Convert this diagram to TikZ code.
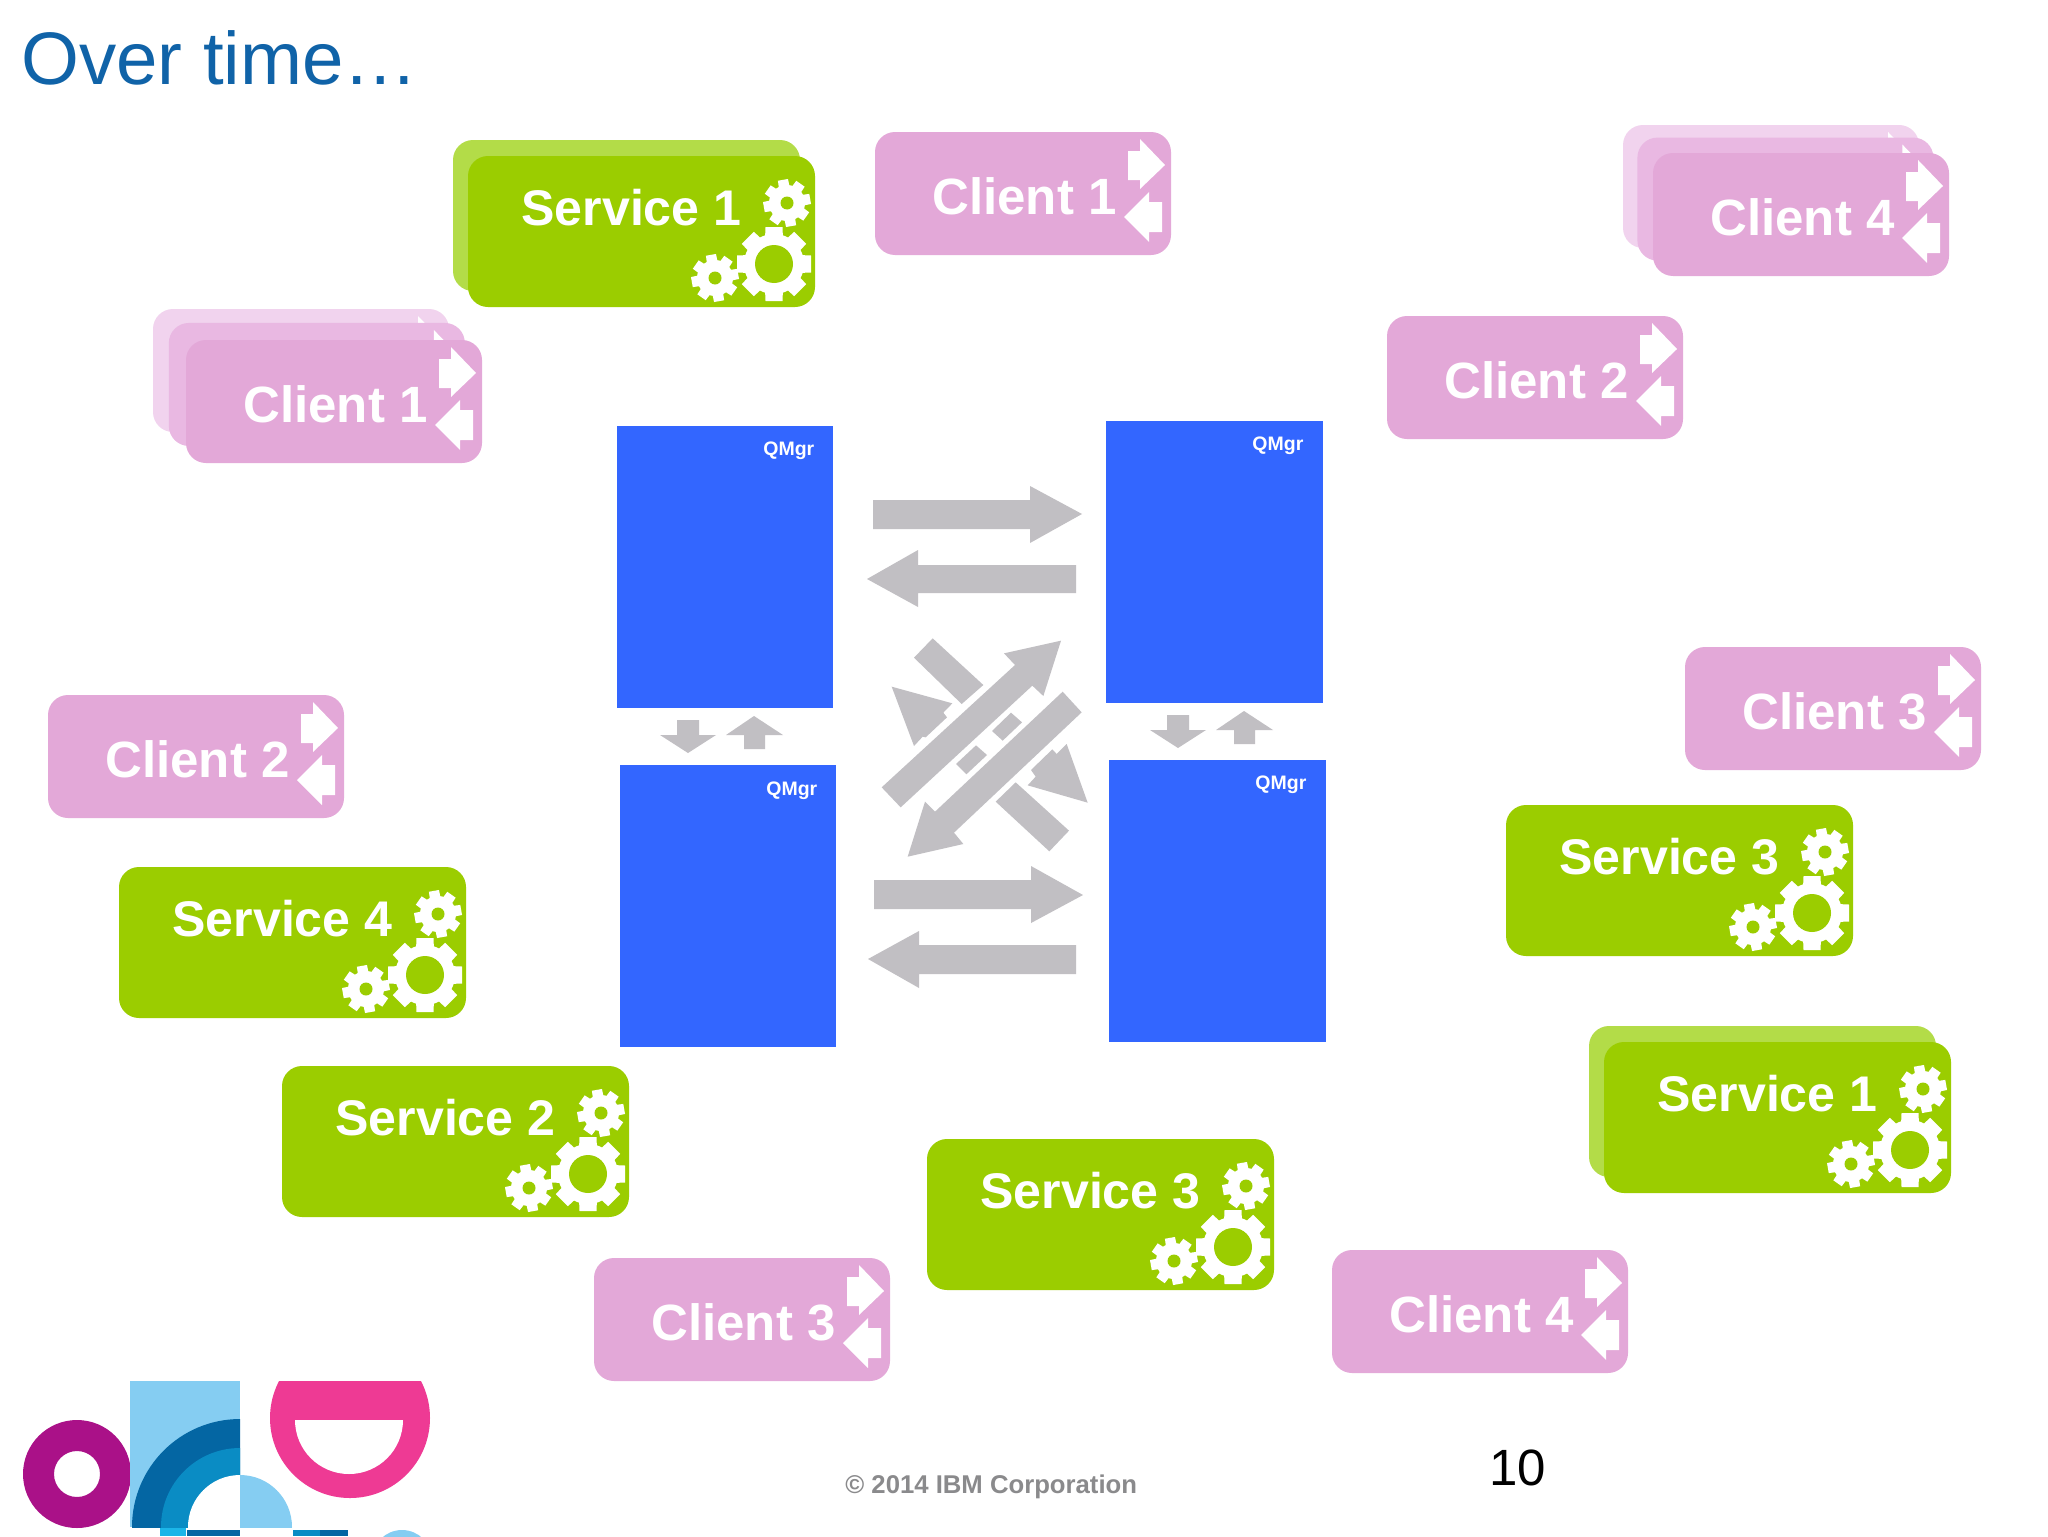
\documentclass[tikz,border=0pt]{standalone}
\usepackage{fontspec}
\setmainfont{Liberation Sans}
\definecolor{svcfront}{HTML}{9BCD00}
\definecolor{svcback}{HTML}{B3DC48}
\definecolor{clifront}{HTML}{E3A8D8}
\definecolor{climid}{HTML}{E9B8E2}
\definecolor{cliback}{HTML}{F1D3EE}
\definecolor{qblue}{HTML}{3366FF}
\definecolor{arrowgrey}{HTML}{C1BFC3}
\definecolor{titleblue}{HTML}{1063A8}
\definecolor{footgrey}{HTML}{8A8A8C}
\definecolor{logopurple}{HTML}{AA1188}
\definecolor{logopink}{HTML}{EE3A94}
\definecolor{logolight}{HTML}{85CDF2}
\definecolor{logodark}{HTML}{0466A3}
\definecolor{logomid}{HTML}{0A8CC4}
\definecolor{logocyan}{HTML}{1CB5E8}
\tikzset{
  cardbox/.style={anchor=north west,inner sep=0pt,outer sep=0pt,rounded corners=10pt},
  servicebox/.style={cardbox,minimum width=173.5pt,minimum height=75.5pt},
  clientbox/.style={cardbox,minimum width=148pt,minimum height=61.5pt},
  svclabel/.style={anchor=base west,inner sep=0pt,text=white,font=\fontsize{25.05pt}{28pt}\selectfont\bfseries},
  clilabel/.style={anchor=base west,inner sep=0pt,text=white,font=\fontsize{25.5pt}{28pt}\selectfont\bfseries},
  qmgrbox/.style={anchor=north west,inner sep=0pt,outer sep=0pt,fill=qblue,minimum height=141pt},
  qmgrlabel/.style={anchor=base west,inner sep=0pt,text=white,font=\fontsize{9.75pt}{11pt}\selectfont\bfseries},
  grey/.style={fill=arrowgrey}
}
% centre x, centre y, outer radius, body radius, tooth half-width, hole radius, turn, hole colour
\newcommand{\gearat}[8]{%
  \foreach \a in {0,45,...,315}{\fill[white,shift={(#1,#2)},rotate=\a+#7] (-#5,0) -- (-#5*0.85,#3) -- (#5*0.85,#3) -- (#5,0) -- cycle;}
  \fill[white] (#1,#2) circle[radius=#4];
  \fill[#8] (#1,#2) circle[radius=#6];
}
\newcommand{\clientarrows}{%
  \fill[white] (253,19) -- (265,19) -- (265,7) -- (290,33) -- (265,57) -- (265,48) -- (253,48) -- cycle;
  \fill[white] (249,85) -- (274,60) -- (274,70) -- (287,70) -- (287,100) -- (274,100) -- (274,110) -- cycle;
}
% id, x, y, label
\newcommand{\clientcard}[4]{%
  \begin{scope}[shift={(#2,#3)}]
    \node[clientbox,fill=clifront] (#1) at (0,0) {};
    \clientarrows
    \node[clilabel] (#1text) at (57,82) {#4};
  \end{scope}}
% id, x, y, far back dx, far back dy
\newcommand{\clientstackback}[5]{%
  \begin{scope}[shift={(#2+#4,#3+#5)}]
    \node[clientbox,fill=cliback] (#1backA) at (0,0) {};
    \clientarrows
  \end{scope}
  \begin{scope}[shift={(#2+#4*0.52,#3+#5*0.55)}]
    \node[clientbox,fill=climid] (#1backB) at (0,0) {};
    \clientarrows
  \end{scope}}
\newcommand{\servicecard}[4]{%
  \begin{scope}[shift={(#2,#3)}]
    \node[servicebox,fill=svcfront] (#1) at (0,0) {};
    \node[svclabel] (#1text) at (53,69) {#4};
    \gearat{319}{47}{23.5}{18}{6}{6.5}{10}{svcfront}
    \gearat{306}{108}{37}{30}{10}{19}{0}{svcfront}
    \gearat{247}{122}{23.5}{18}{6}{6.5}{10}{svcfront}
  \end{scope}}
\begin{document}
\begin{tikzpicture}[x=0.5pt,y=-0.5pt]
\useasboundingbox (0,0) rectangle (2048,1536);
\fill[white] (0,0) rectangle (2048,1536);

\node[anchor=base west,inner sep=0pt,text=titleblue,font=\fontsize{37.2pt}{40pt}\selectfont] (title) at (21,84) {Over time…};

% stacks and cards
\node[servicebox,fill=svcback] (svcAback) at (453,140) {};
\servicecard{svcA}{468}{156}{Service 1}
\clientcard{cliA}{875}{132}{Client 1}
\clientstackback{cliD}{1653}{153}{-30}{-28}
\clientcard{cliD}{1653}{153}{Client 4}
\clientstackback{cliE}{186}{340}{-33}{-31}
\clientcard{cliE}{186}{340}{Client 1}
\clientcard{cliB}{1387}{316}{Client 2}
\clientcard{cliC}{1685}{647}{Client 3}
\clientcard{cliF}{48}{695}{Client 2}
\clientcard{cliG}{594}{1258}{Client 3}
\clientcard{cliH}{1332}{1250}{Client 4}
\servicecard{svcD}{119}{867}{Service 4}
\servicecard{svcB}{282}{1066}{Service 2}
\servicecard{svcC}{1506}{805}{Service 3}
\servicecard{svcE}{927}{1139}{Service 3}
\node[servicebox,fill=svcback] (svcFback) at (1589,1026) {};
\servicecard{svcF}{1604}{1042}{Service 1}

% queue managers
\node[qmgrbox,minimum width=108pt] (qA) at (617,426) {};
\node[qmgrlabel] (qAt) at (763,455) {QMgr};
\node[qmgrbox,minimum width=108pt] (qB) at (620,765) {};
\node[qmgrlabel] (qBt) at (766,795) {QMgr};
\node[qmgrbox,minimum width=108.5pt] (qC) at (1106,421) {};
\node[qmgrlabel] (qCt) at (1252,450) {QMgr};
\node[qmgrbox,minimum width=108.5pt] (qD) at (1109,760) {};
\node[qmgrlabel] (qDt) at (1255,789) {QMgr};

% horizontal arrows
\fill[grey] (873,500) -- (1030,500) -- (1030,486) -- (1082,514) -- (1030,543) -- (1030,529) -- (873,529) -- cycle;
\fill[grey] (1076,565) -- (918,565) -- (918,550) -- (867,579) -- (918,607) -- (918,593) -- (1076,593) -- cycle;
\fill[grey] (874,880) -- (1031,880) -- (1031,866) -- (1083,895) -- (1031,923) -- (1031,909) -- (874,909) -- cycle;
\fill[grey] (1076,945) -- (919,945) -- (919,931) -- (868,959) -- (919,988) -- (919,974) -- (1076,974) -- cycle;

% vertical small arrows
\foreach \dx/\dy in {0/0,490/-5}{
  \begin{scope}[shift={(\dx,\dy)}]
    \fill[grey] (677,720) -- (699,720) -- (699,735) -- (716,735) -- (688,753) -- (660,735) -- (677,735) -- cycle;
    \fill[grey] (744,749) -- (765,749) -- (765,735) -- (783,735) -- (754,716) -- (726,735) -- (744,735) -- cycle;
  \end{scope}}

% crossing arrows
\begin{scope}[shift={(850,620)},scale=0.33333]
  \fill[grey] (95,502) -- (495,135) -- (462,100) -- (633,62) -- (580,228) -- (547,197) -- (152,562) -- cycle;
  \fill[grey] (695,277) -- (312,638) -- (340,672) -- (173,710) -- (225,545) -- (255,575) -- (638,215) -- cycle;
  \fill[grey] (248,55) -- (400,195) -- (335,252) -- (192,113) -- cycle;
  \fill[grey] (125,200) -- (307,250) -- (280,278) -- (291,292) -- (227,352) -- (218,350) -- (192,378) -- cycle;
  \fill[grey] (483,278) -- (516,307) -- (458,362) -- (426,333) -- cycle;
  \fill[grey] (378,376) -- (411,405) -- (349,463) -- (318,432) -- cycle;
  \fill[grey] (650,372) -- (713,548) -- (533,496) -- (557,470) -- (543,450) -- (607,388) -- (620,402) -- cycle;
  \fill[grey] (497,487) -- (657,632) -- (598,694) -- (437,545) -- cycle;
\end{scope}

% footer
\node[anchor=base west,inner sep=0pt,text=footgrey,font=\fontsize{12.85pt}{15pt}\selectfont\bfseries] (copyright) at (845,1493) {© 2014 IBM Corporation};
\node[anchor=base west,inner sep=0pt,text=black,font=\fontsize{25.5pt}{30pt}\selectfont] (pageno) at (1489,1485) {10};

% logo
\fill[logopurple,even odd rule] (77,1474) circle[radius=54] (77,1474) circle[radius=23];
\begin{scope}
  \clip (130,1381) rectangle (240,1527);
  \fill[logolight] (130,1381) rectangle (240,1527);
  \fill[logodark] (240,1527) circle[radius=108];
  \fill[logomid] (240,1527) circle[radius=79];
  \fill[white] (240,1527) circle[radius=52];
\end{scope}
\begin{scope}
  \clip (240,1460) rectangle (300,1527);
  \fill[logolight] (240,1527) circle[radius=52];
\end{scope}
\fill[logocyan] (160,1528) rectangle (186,1536);
\fill[logodark] (187,1530) rectangle (240,1536);
\fill[logomid] (293,1530) rectangle (320,1536);
\fill[logodark] (320,1530) rectangle (348,1536);
\begin{scope}
  \clip (370,1525) rectangle (440,1536);
  \fill[logolight] (402,1560) circle[radius=30];
\end{scope}
\begin{scope}
  \clip (260,1381) rectangle (440,1510);
  \fill[logopink] (350,1418) circle[radius=80];
\end{scope}
\begin{scope}
  \clip (290,1420) rectangle (410,1480);
  \fill[white] (349,1420) circle[radius=54];
\end{scope}
\end{tikzpicture}
\end{document}
